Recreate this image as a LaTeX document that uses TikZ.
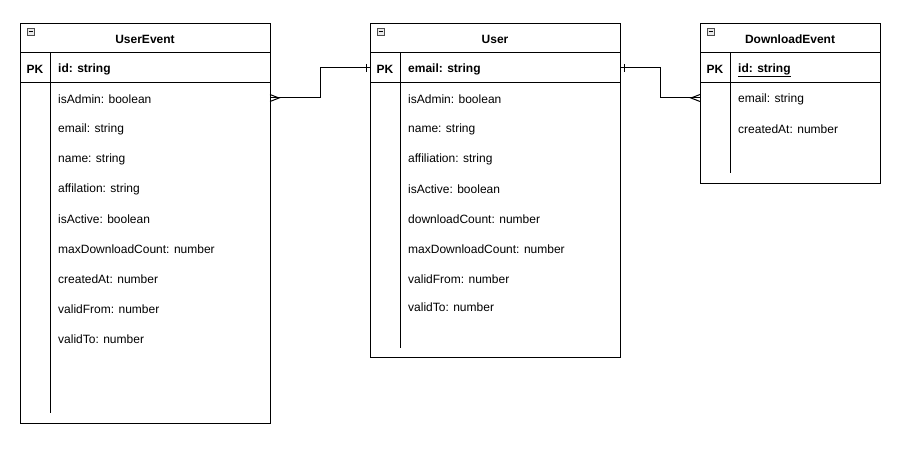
\documentclass[tikz,border=0pt]{standalone}
\usepackage{fontspec}
\setmainfont{Liberation Sans}
\usetikzlibrary{calc}
\begin{document}
\begin{tikzpicture}[x=1pt,y=-1pt,
  line/.style={draw=black,line width=1pt},
  title/.style={font=\fontsize{12}{14}\selectfont\bfseries,anchor=center,inner sep=0},
  pk/.style={font=\fontsize{12}{14}\selectfont\bfseries,anchor=center,inner sep=0},
  pkfield/.style={font=\fontsize{12}{14}\selectfont\bfseries,anchor=west,inner sep=0},
  field/.style={font=\fontsize{12}{14}\selectfont,anchor=west,inner sep=0},
  icon/.style={draw=black!70,fill=black!8,line width=0.6pt}
]
\useasboundingbox (0,0) rectangle (909,449);
\fill[white] (0,0) rectangle (909,449);

% ---------- UserEvent ----------
\node[line,rectangle,minimum width=250,minimum height=400,anchor=north west,inner sep=0] (ue) at (20,23) {};
\draw[line] (20,53) -- (270,53);
\draw[line] (20,83) -- (270,83);
\draw[line] (50,53) -- (50,413);
\draw[icon] (27,28) rectangle (34,35); \draw[line width=0.6pt] (28.5,31.5) -- (32.5,31.5);
\node[title] (uet) at (145,39.5) {UserEvent};
\node[pk] (uepk) at (35,69.5) {PK};
\node[pkfield] (ueid) at (58,69.5) {id: string};
\node[field] (ue1) at (58,99.5) {isAdmin: boolean};
\node[field] (ue2) at (58,129.5) {email: string};
\node[field] (ue3) at (58,159.5) {name: string};
\node[field] (ue4) at (58,189.5) {affilation: string};
\node[field] (ue5) at (58,219.5) {isActive: boolean};
\node[field] (ue6) at (58,249.5) {maxDownloadCount: number};
\node[field] (ue7) at (58,279.5) {createdAt: number};
\node[field] (ue8) at (58,309.5) {validFrom: number};
\node[field] (ue9) at (58,339.5) {validTo: number};

% ---------- User ----------
\node[line,rectangle,minimum width=250,minimum height=334,anchor=north west,inner sep=0] (u) at (370,23) {};
\draw[line] (370,53) -- (620,53);
\draw[line] (370,83) -- (620,83);
\draw[line] (400,53) -- (400,348);
\draw[icon] (377,28) rectangle (384,35); \draw[line width=0.6pt] (378.5,31.5) -- (382.5,31.5);
\node[title] (ut) at (495,39.5) {User};
\node[pk] (upk) at (385,69.5) {PK};
\node[pkfield] (uid) at (408,69.5) {email: string};
\node[field] (u1) at (408,99.5) {isAdmin: boolean};
\node[field] (u2) at (408,129.5) {name: string};
\node[field] (u3) at (408,159.5) {affiliation: string};
\node[field] (u4) at (408,189.5) {isActive: boolean};
\node[field] (u5) at (408,219.5) {downloadCount: number};
\node[field] (u6) at (408,249.5) {maxDownloadCount: number};
\node[field] (u7) at (408,279.5) {validFrom: number};
\node[field] (u8) at (408,307.5) {validTo: number};

% ---------- DownloadEvent ----------
\node[line,rectangle,minimum width=180,minimum height=160,anchor=north west,inner sep=0] (de) at (700,23) {};
\draw[line] (700,53) -- (880,53);
\draw[line] (700,83) -- (880,83);
\draw[line] (730,53) -- (730,173);
\draw[icon] (707,28) rectangle (714,35); \draw[line width=0.6pt] (708.5,31.5) -- (712.5,31.5);
\node[title] (det) at (790,39.5) {DownloadEvent};
\node[pk] (depk) at (715,69.5) {PK};
\node[pkfield] (deid) at (738,69.5) {id: string};
\draw[line width=0.8pt] ($(deid.south west)+(0,1.5)$) -- ($(deid.south east)+(0,1.5)$);
\node[field] (de1) at (738,99.5) {email: string};
\node[field] (de2) at (738,129.5) {createdAt: number};

% ---------- connectors ----------
\coordinate (a1) at (270,98);
\coordinate (a2) at (370,68);
\draw[line] (a1) -- (320,98) -- (320,68) -- (a2);
\draw[line] (270,94.5) -- (279,98) -- (270,101.5);
\draw[line] (366,64) -- (366,72);

\coordinate (b1) at (620,68);
\coordinate (b2) at (700,98);
\draw[line] (b1) -- (660,68) -- (660,98) -- (b2);
\draw[line] (700,94.5) -- (691,98) -- (700,101.5);
\draw[line] (624,64) -- (624,72);
\end{tikzpicture}
\end{document}
